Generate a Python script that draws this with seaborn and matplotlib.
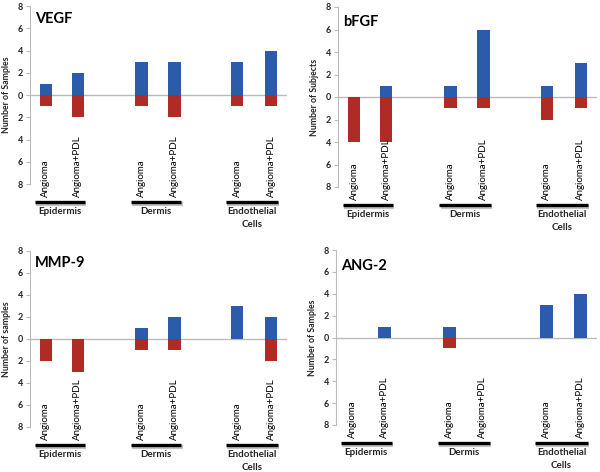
import matplotlib
matplotlib.use("Agg")
import matplotlib.pyplot as plt
import seaborn as sns
import pandas as pd
import numpy as np
from matplotlib import transforms

sns.set_theme(style="white")
plt.rcParams['font.family'] = ['Lato', 'DejaVu Sans']

# ---- data ----
bars = ["Angioma", "Angioma+PDL", "Angioma", "Angioma+PDL", "Angioma", "Angioma+PDL"]
groups = ["Epidermis", "Dermis", "Endothelial\nCells"]
titles = ["VEGF", "bFGF", "MMP-9", "ANG-2"]
ylabels = ["Number of Samples", "Number of Subjects", "Number of samples", "Number of Samples"]
yticks = [-8, -6, -4, -2, 0, 2, 4, 6, 8]

vegf_up = [1, 2, 3, 3, 3, 4]
vegf_down = [1, 2, 1, 2, 1, 1]
bfgf_up = [0, 1, 1, 6, 1, 3]
bfgf_down = [4, 4, 1, 1, 2, 1]
mmp9_up = [0, 0, 1, 2, 3, 2]
mmp9_down = [2, 3, 1, 1, 0, 2]
ang2_up = [0, 1, 1, 0, 3, 4]
ang2_down = [0, 0, 1, 0, 0, 0]

ups = [vegf_up, bfgf_up, mmp9_up, ang2_up]
downs = [vegf_down, bfgf_down, mmp9_down, ang2_down]

# ---- layout (pixel based) ----
W, H = 600, 472
pos = [16, 48, 112, 145, 208, 242]
XMAX = 258
# left, right, top, bottom in pixels
boxes = [(30, 287, 6, 184), (338, 597, 7, 187), (30, 287, 251, 427), (336, 597, 250, 425)]
title_off = [13, 15, 12, 16]

BLUE = "#2B5BAA"
RED = "#B02A26"

fig = plt.figure(figsize=(6, 4.72), dpi=100)

for i in range(4):
    l, r, t, b = boxes[i]
    ax = fig.add_axes([l / W, 1 - b / H, (r - l) / W, (b - t) / H])
    ax.patch.set_alpha(0)
    df = pd.DataFrame({"x": pos, "up": ups[i], "down": [-v for v in downs[i]]})
    sns.barplot(data=df, x="x", y="up", native_scale=True, color=BLUE,
                saturation=1, width=12.5 / 32, ax=ax, errorbar=None, linewidth=0)
    sns.barplot(data=df, x="x", y="down", native_scale=True, color=RED,
                saturation=1, width=12.5 / 32, ax=ax, errorbar=None, linewidth=0)
    ax.set_xlim(0, XMAX)
    ax.set_ylim(-8, 8)
    ax.axhline(0, color="#BBBBBB", lw=1, zorder=0.5)
    for s in ["top", "right", "bottom"]:
        ax.spines[s].set_visible(False)
    ax.spines["left"].set_color("#BBBBBB")
    ax.spines["left"].set_linewidth(0.8)
    ax.set_xticks([])
    ax.set_xlabel("")
    ax.set_yticks(yticks)
    ax.set_yticklabels([str(abs(v)) for v in yticks], fontsize=6.5, fontweight="bold")
    ax.tick_params(axis="y", length=3, width=0.8, color="#BBBBBB", pad=2, left=True)
    ax.set_ylabel(ylabels[i], fontsize=6.3, fontweight="bold")
    ax.yaxis.set_label_coords(-19 / (r - l), 0.5)

    # title
    ax.annotate(titles[i], xy=(0, 1), xycoords="axes fraction",
                xytext=(5 * 0.72, -title_off[i] * 0.72), textcoords="offset points",
                ha="left", va="center", fontsize=10.5, fontweight="bold", color="black")

    # bar category labels
    for xp, lab in zip(pos, bars):
        ax.annotate(lab, xy=(xp, 0), xycoords=("data", "axes fraction"),
                    xytext=(0, -13 * 0.72), textcoords="offset points",
                    ha="center", va="bottom", rotation=90, fontsize=7, color="black",
                    annotation_clip=False)

    # group underlines and labels
    trans = transforms.blended_transform_factory(ax.transData, ax.transAxes)
    for g in range(3):
        x0 = pos[2 * g] - 11
        x1 = pos[2 * g + 1] + 7
        yfrac = -18 / (b - t)
        shadow = transforms.offset_copy(trans, fig=fig, x=1.2, y=-1.5, units="dots")
        ax.plot([x0, x1], [yfrac, yfrac], transform=shadow, color="#999999",
                lw=3, alpha=0.6, clip_on=False, solid_capstyle="butt")
        ax.plot([x0, x1], [yfrac, yfrac], transform=trans, color="black",
                lw=2.4, clip_on=False, solid_capstyle="butt")
        ax.annotate(groups[g], xy=((x0 + x1) / 2, 0), xycoords=("data", "axes fraction"),
                    xytext=(0, -23 * 0.72), textcoords="offset points",
                    ha="center", va="top", fontsize=7, fontweight="bold",
                    linespacing=1.6, annotation_clip=False)

fig.savefig("out.png", dpi=100)
